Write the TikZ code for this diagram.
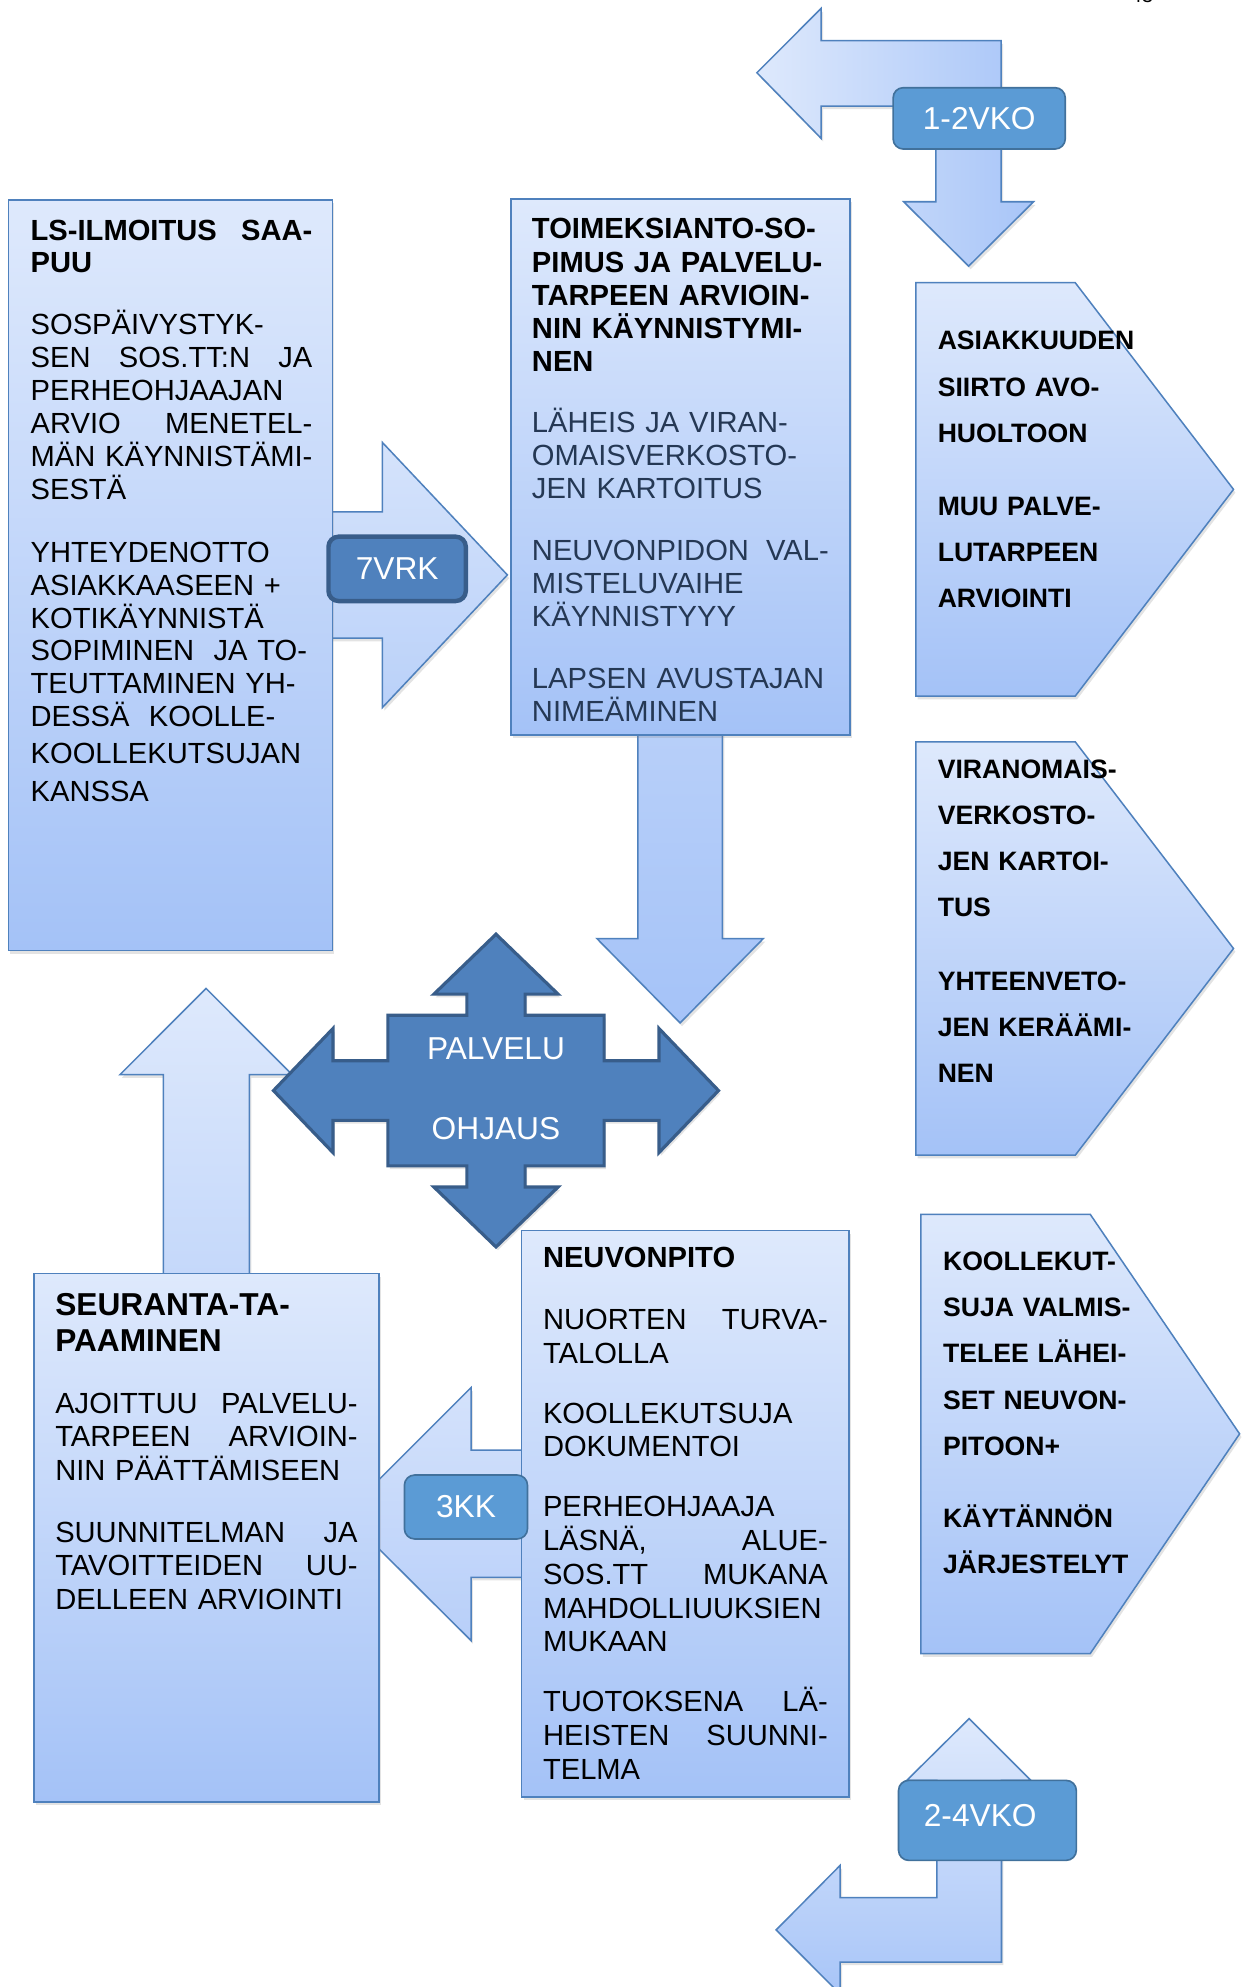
\documentclass[tikz,border=0pt]{standalone}
\usepackage{fontspec}
\setmainfont{Liberation Sans}
\usetikzlibrary{shadows}
\definecolor{boxtop}{RGB}{222,233,252}
\definecolor{boxbot}{RGB}{164,194,247}
\definecolor{bordc}{RGB}{79,129,189}
\definecolor{labfill}{RGB}{91,155,213}
\definecolor{labbord}{RGB}{65,113,156}
\definecolor{crossfill}{RGB}{79,129,189}
\definecolor{crossbord}{RGB}{56,93,138}
\definecolor{slate}{RGB}{37,56,84}
\newcommand\FS{\rule{0pt}{24pt}}
\newcommand\J[2]{\leavevmode\hbox to #1pt{#2}}
\newcommand\labf{\fontsize{25pt}{28pt}\selectfont}
\begin{document}
\begin{tikzpicture}[x=1pt,y=-1pt,line join=miter,
  shd/.style={drop shadow={opacity=0.22,shadow xshift=1.5pt,shadow yshift=-2.5pt}},
  box/.style={draw=bordc,line width=1.2pt,top color=boxtop,bottom color=boxbot,shd,rectangle,inner sep=0pt},
  arrowshape/.style={draw=bordc,line width=1.2pt,shd},
  lab/.style={draw=labbord,fill=labfill,line width=1.3pt,rounded corners=8pt,text=white,font=\labf,inner sep=0pt},
  txt/.style={anchor=north west,inner sep=0pt,align=left,text width=300pt},
  pent/.style={anchor=north west,inner sep=0pt,align=left,text width=250pt,font={\fontsize{21pt}{36.4pt}\selectfont\bfseries}}
]
\path[use as bounding box,fill=white] (0,0) rectangle (985,1568);

% page number (cut off at the top)
\node[anchor=base,inner sep=0pt,font=\fontsize{16pt}{18pt}\selectfont] (pnum) at (901,1.8) {43};

% ---- top bent arrow (1-2VKO)
\path[arrowshape,left color=boxtop,right color={rgb,255:red,168;green,197;blue,248}]
  (597.3,57.4) -- (648,6.6) -- (648,32.1) -- (790,32.1) -- (790,159.2) -- (815.6,159.2)
  -- (764.4,210) -- (713.1,159.2) -- (738.6,159.2) -- (738.6,83.7) -- (648,83.7) -- (648,109.2) -- cycle;
\node[lab,minimum width=135.8pt,minimum height=48.4pt] (l12) at (772.7,93.4) {1-2VKO};

% ---- 7VRK arrow
\path[arrowshape,top color={rgb,255:red,213;green,227;blue,251},bottom color={rgb,255:red,186;green,209;blue,249}]
  (250,404) -- (301.8,404) -- (301.8,349.2) -- (400.4,453.7) -- (301.8,558.3) -- (301.8,503.6) -- (250,503.6) -- cycle;

% ---- LS box
\node[box,minimum width=255.7pt,minimum height=592pt] (ls) at (134.45,454) {};
\node[txt,font={\fontsize{23pt}{25.4pt}\selectfont\bfseries}] (lst) at (24,165.4)
  {\FS\J{222.3}{LS-ILMOITUS\hfill SAA-}\\PUU};
\node[txt,font={\fontsize{23pt}{26pt}\selectfont}] (lsb) at (24,239.7)
  {\FS SOSPÄIVYSTYK-\\
   \J{222.3}{SEN\hfill SOS.TT:N\hfill JA}\\
   PERHEOHJAAJAN\\
   \J{222.3}{ARVIO\hfill MENETEL-}\\
   MÄN KÄYNNISTÄMI-\\
   SESTÄ\\[23.7pt]
   YHTEYDENOTTO\\
   ASIAKKAASEEN +\\
   KOTIKÄYNNISTÄ\\
   SOPIMINEN\ \ JA TO-\\
   TEUTTAMINEN YH-\\
   DESSÄ\ \ KOOLLE-\\[3.2pt]
   KOOLLEKUTSUJAN\\[3.3pt]
   KANSSA};

\node[lab,fill=crossfill,draw=crossbord,line width=3.5pt,minimum width=108.4pt,minimum height=50.8pt] (l7) at (313.4,448.9) {7VRK};

% ---- down arrow under TOIMEKSIANTO
\path[arrowshape,top color={rgb,255:red,185;green,208;blue,249},bottom color={rgb,255:red,165;green,195;blue,248}]
  (503.3,560) -- (570.1,560) -- (570.1,740.6) -- (602.4,740.6) -- (536.7,807.2) -- (471,740.6) -- (503.3,740.6) -- cycle;

% ---- TOIMEKSIANTO box
\node[box,minimum width=267.8pt,minimum height=423pt] (toim) at (537,368.5) {};
\node[txt,font={\fontsize{23pt}{26.1pt}\selectfont\bfseries}] (toimt) at (419.6,164.4)
  {\FS TOIMEKSIANTO-SO-\\PIMUS JA PALVELU-\\TARPEEN ARVIOIN-\\NIN KÄYNNISTYMI-\\NEN};
\node[txt,text=slate,font={\fontsize{23pt}{26.2pt}\selectfont}] (toimb) at (419.6,317)
  {\FS LÄHEIS JA VIRAN-\\
   OMAISVERKOSTO-\\
   JEN KARTOITUS\\[22.5pt]
   \J{234.2}{NEUVONPIDON\hfill VAL-}\\
   MISTELUVAIHE\\
   KÄYNNISTYYY\\[22.5pt]
   LAPSEN AVUSTAJAN\\
   NIMEÄMINEN};

% ---- pentagons
\path[box] (722.7,223.1) -- (848.5,223.1) -- (973.4,386.2) -- (848.5,549.3) -- (722.7,549.3) -- cycle;
\node[pent] (p1) at (739.8,251.9)
  {\FS ASIAKKUUDEN\\SIIRTO AVO-\\HUOLTOON\\[21.4pt]MUU PALVE-\\LUTARPEEN\\ARVIOINTI};
\path[box] (722.7,585.4) -- (848.5,585.4) -- (973.4,748.5) -- (848.5,911.6) -- (722.7,911.6) -- cycle;
\node[pent] (p2) at (739.8,589.9)
  {\FS VIRANOMAIS-\\VERKOSTO-\\JEN KARTOI-\\TUS\\[21.7pt]YHTEENVETO-\\JEN KERÄÄMI-\\NEN};
\path[box] (726.7,958.2) -- (860.3,958.2) -- (978.2,1131.5) -- (860.3,1304.9) -- (726.7,1304.9) -- cycle;
\node[pent] (p3) at (744,978.5)
  {\FS KOOLLEKUT-\\SUJA VALMIS-\\TELEE LÄHEI-\\SET NEUVON-\\PITOON+\\[20.4pt]KÄYTÄNNÖN\\JÄRJESTELYT};

% ---- up arrow above SEURANTA
\path[arrowshape,top color=boxtop,bottom color={rgb,255:red,195;green,215;blue,250}]
  (162.6,780) -- (230.5,848) -- (196.8,848) -- (196.8,1020) -- (129,1020) -- (129,848) -- (94.7,848) -- cycle;

% ---- 3KK arrow
\path[arrowshape,top color={rgb,255:red,212;green,226;blue,251},bottom color={rgb,255:red,184;green,207;blue,249}]
  (271.7,1195) -- (371.7,1095) -- (371.7,1144.3) -- (425,1144.3) -- (425,1244.7) -- (371.7,1244.7) -- (371.7,1294.6) -- cycle;

% ---- SEURANTA box
\node[box,minimum width=272.2pt,minimum height=417pt] (seur) at (162.9,1213.5) {};
\node[txt,font={\fontsize{25pt}{28.8pt}\selectfont\bfseries}] (seurt) at (43.4,1013.8)
  {\FS SEURANTA-TA-\\PAAMINEN};
\node[txt,font={\fontsize{23pt}{26.5pt}\selectfont}] (seurb) at (43.4,1091.1)
  {\FS\J{238.6}{AJOITTUU\hfill PALVELU-}\\
   \J{238.6}{TARPEEN\hfill ARVIOIN-}\\
   NIN PÄÄTTÄMISEEN\\[22.3pt]
   \J{238.6}{SUUNNITELMAN\hfill JA}\\
   \J{238.6}{TAVOITTEIDEN\hfill UU-}\\
   DELLEEN ARVIOINTI};

% ---- NEUVONPITO box
\node[box,minimum width=258.4pt,minimum height=447pt] (neuv) at (540.9,1194.5) {};
\node[txt,font={\fontsize{23pt}{26.5pt}\selectfont\bfseries}] (neuvt) at (428.3,976.4)
  {\FS NEUVONPITO};
\node[txt,font={\fontsize{23pt}{26.6pt}\selectfont}] (neuvb) at (428.3,1024.8)
  {\FS\J{224.7}{NUORTEN\hfill TURVA-}\\
   TALOLLA\\[20.8pt]
   KOOLLEKUTSUJA\\
   DOKUMENTOI\\[20.8pt]
   PERHEOHJAAJA\\
   \J{224.7}{LÄSNÄ,\hfill ALUE-}\\
   \J{224.7}{SOS.TT\hfill MUKANA}\\
   MAHDOLLIUUKSIEN\\
   MUKAAN\\[20.8pt]
   \J{224.7}{TUOTOKSENA\hfill LÄ-}\\
   \J{224.7}{HEISTEN\hfill SUUNNI-}\\
   TELMA};

% ---- PALVELU OHJAUS cross
\path[fill=crossfill,draw=crossbord,line width=2.5pt,shd]
  (391.4,737.2) -- (440.4,784.5) -- (414.4,784.5) -- (414.4,801.2) -- (476.7,801.2) -- (476.7,837.1)
  -- (520,837.1) -- (520,811.6) -- (567,860.6) -- (520,909.6) -- (520,884.1) -- (476.7,884.1)
  -- (476.7,920) -- (414.4,920) -- (414.4,936.7) -- (440.4,936.7) -- (391.4,984) -- (342.4,936.7)
  -- (368.4,936.7) -- (368.4,920) -- (306.1,920) -- (306.1,884.1) -- (262.8,884.1) -- (262.8,909.6)
  -- (215.8,860.6) -- (262.8,811.6) -- (262.8,837.1) -- (306.1,837.1) -- (306.1,801.2) -- (368.4,801.2)
  -- (368.4,784.5) -- (342.4,784.5) -- cycle;
\node[anchor=base,inner sep=0pt,text=white,font=\labf] (palvelu) at (391.4,835.9) {PALVELU};
\node[anchor=base,inner sep=0pt,text=white,font=\labf] (ohjaus) at (391.4,899.4) {OHJAUS};

\node[lab,minimum width=97.1pt,minimum height=50.4pt] (l3) at (367.7,1189.2) {3KK};

% ---- bottom bent arrow (2-4VKO)
\path[arrowshape,top color=boxtop,bottom color={rgb,255:red,168;green,197;blue,248}]
  (764.8,1356.2) -- (813.5,1404.9) -- (790.3,1404.9) -- (790.3,1548.3) -- (663,1548.3) -- (663,1573.6)
  -- (612.5,1522.9) -- (663,1472) -- (663,1497.5) -- (739.3,1497.5) -- (739.3,1404.9) -- (715.6,1404.9) -- cycle;
\node[lab,minimum width=140.3pt,minimum height=63.1pt] (l24) at (779.2,1436.5) {};
\node[inner sep=0pt,text=white,font=\labf] (l24t) at (773.5,1432.5) {2-4VKO};
\end{tikzpicture}
\end{document}
